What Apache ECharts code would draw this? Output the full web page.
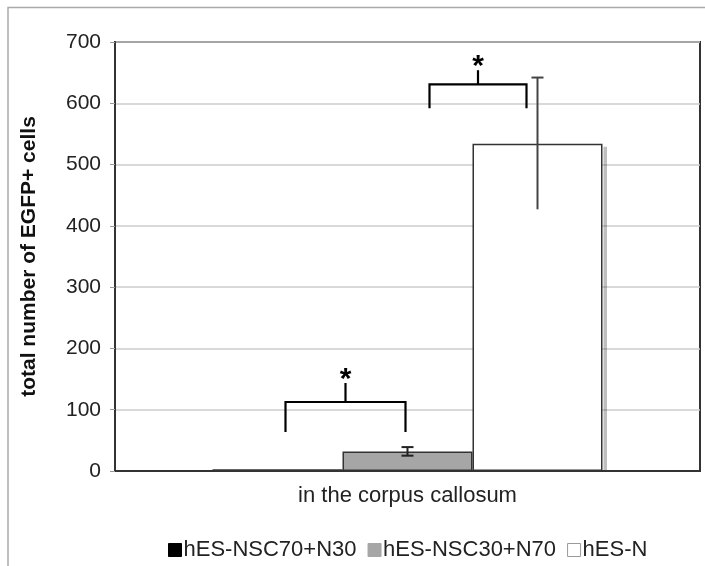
<!DOCTYPE html>
<html>
<head>
<meta charset="utf-8">
<script src="https://cdn.jsdelivr.net/npm/echarts@6/dist/echarts.min.js"></script>
<style>
html,body{margin:0;padding:0;background:#fff;}
#c{width:705px;height:566px;}
</style>
</head>
<body>
<div id="c"></div>
<script>
const categories = ['in the corpus callosum'];
const seriesNames = ['hES-NSC70+N30', 'hES-NSC30+N70', 'hES-N'];
const means = [3, 32, 534];
const errLow = [null, 7, 107];
const errHigh = [null, 7, 108];
const yTicks = [0, 100, 200, 300, 400, 500, 600, 700];
// significance brackets: [leftBar, rightBar, barTopValue, legBottomValue, stemTopValue]
const brackets = [
  [0, 1, 112.6, 63.6, 143.6],
  [1, 2, 631, 592, 654]
];

const colors = ['#000000', '#a6a6a6', '#ffffff'];
const BAR_W = 130;
const FONT = '"Liberation Sans", Arial, Helvetica, sans-serif';

const chart = echarts.init(document.getElementById('c'));

const series = seriesNames.map((n, i) => ({
  name: n,
  type: 'bar',
  barWidth: BAR_W,
  barGap: '0%',
  data: [means[i]],
  z: 2 + i,
  itemStyle: {
    color: colors[i],
    borderColor: '#333',
    borderWidth: 1.5
  },
  emphasis: {disabled: true},
  animation: false
}));

chart.setOption({
  animation: false,
  backgroundColor: '#fff',
  textStyle: {fontFamily: FONT},
  grid: {
    left: 115, right: 5, top: 42, bottom: 95,
    show: true, borderColor: '#333', borderWidth: 2, backgroundColor: '#fff'
  },
  legend: {
    data: seriesNames.map((n, i) => ({
      name: n,
      itemStyle: {color: colors[i], borderColor: i === 2 ? '#999' : colors[i], borderWidth: 1}
    })),
    top: 534,
    left: 163,
    icon: 'rect',
    itemWidth: 13,
    itemHeight: 13,
    itemGap: 11,
    textStyle: {fontSize: 22, color: '#222', fontFamily: FONT, padding: [0, 0, 0, -3]}
  },
  xAxis: {
    type: 'category',
    data: categories,
    axisLine: {lineStyle: {color: '#333', width: 2}},
    axisTick: {show: false},
    axisLabel: {fontSize: 22, color: '#222', margin: 14, fontFamily: FONT},
    splitLine: {show: false}
  },
  yAxis: {
    type: 'value',
    min: 0, max: 700, interval: 100,
    name: 'total number of EGFP+ cells',
    nameLocation: 'middle',
    nameGap: 75,
    nameTextStyle: {fontSize: 21, fontWeight: 'bold', color: '#111', fontFamily: FONT},
    axisLine: {show: true, lineStyle: {color: '#333', width: 2}},
    axisTick: {show: true, length: 5, lineStyle: {color: '#999'}},
    axisLabel: {fontSize: 21, color: '#222', margin: 14, fontFamily: FONT,
      formatter: v => yTicks.includes(v) ? String(v) : ''},
    splitLine: {lineStyle: {color: '#cccccc', width: 1.5}}
  },
  series: series
});

function drawOverlay() {
  const g = [];
  // outer frame
  g.push({type: 'polyline', shape: {points: [[8, 566], [8, 7.5], [705, 7.5]]}, style: {stroke: '#aaa', lineWidth: 1.5, fill: null}, silent: true});
  const center = chart.convertToPixel({xAxisIndex: 0, yAxisIndex: 0}, [categories[0], 0]);
  const barX = i => center[0] + (i - 1) * BAR_W;
  const py = v => chart.convertToPixel({yAxisIndex: 0}, v);
  const y0 = py(0);
  // soft shadow at the right side of the white bar
  {
    const xr = barX(2) + BAR_W / 2 + 1;
    const yt = py(means[2]) + 3;
    g.push({type: 'rect', shape: {x: xr, y: yt, width: 3.5, height: y0 - yt - 1}, style: {fill: 'rgba(0,0,0,0.25)'}, z: 5, silent: true});
  }
  // error bars
  for (let i = 0; i < means.length; i++) {
    if (errHigh[i] == null) continue;
    const x = barX(i);
    const yT = py(means[i] + errHigh[i]);
    const yB = py(means[i] - errLow[i]);
    const col = i === 2 ? '#444' : '#222';
    g.push({type: 'line', shape: {x1: x, y1: yT, x2: x, y2: yB}, style: {stroke: col, lineWidth: 2}, z: 100, silent: true});
    g.push({type: 'line', shape: {x1: x - 6, y1: yT, x2: x + 6, y2: yT}, style: {stroke: col, lineWidth: 2}, z: 100, silent: true});
    if (i === 1) g.push({type: 'line', shape: {x1: x - 6, y1: yB, x2: x + 6, y2: yB}, style: {stroke: col, lineWidth: 2}, z: 100, silent: true});
  }
  // brackets
  const offs = [[8, -2], [22, -11]];
  brackets.forEach((b, k) => {
    const xl = barX(b[0]) + offs[k][0];
    const xr = barX(b[1]) + offs[k][1];
    const xm = (xl + xr) / 2;
    const yh = py(b[2]), yl = py(b[3]), ys = py(b[4]);
    g.push({type: 'polyline', shape: {points: [[xl, yl], [xl, yh], [xr, yh], [xr, yl]]}, style: {stroke: '#000', lineWidth: 2.2, fill: null}, z: 100, silent: true});
    g.push({type: 'line', shape: {x1: xm, y1: yh, x2: xm, y2: ys}, style: {stroke: '#000', lineWidth: 2.2}, z: 100, silent: true});
    g.push({type: 'text', x: xm, y: ys + 12, style: {text: '*', fontSize: 30, fontWeight: 'bold', fontFamily: FONT, fill: '#000', align: 'center', verticalAlign: 'bottom'}, z: 100, silent: true});
  });
  chart.setOption({graphic: g});
}
drawOverlay();
</script>
</body>
</html>
